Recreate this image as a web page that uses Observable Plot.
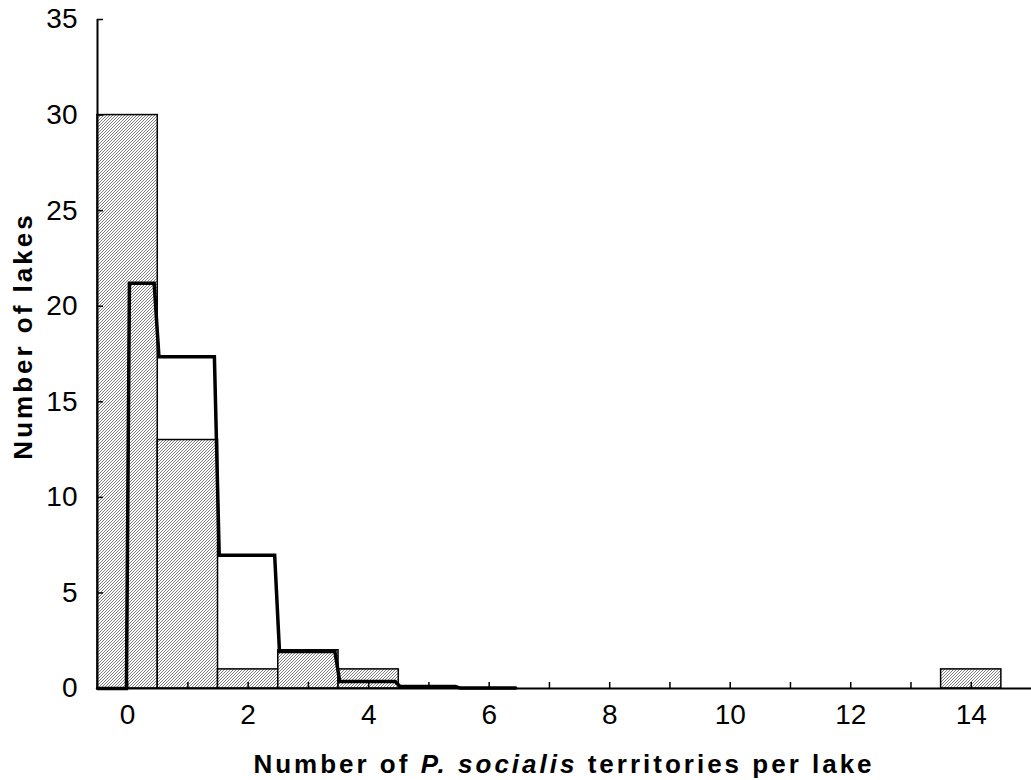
<!DOCTYPE html>
<html>
<head>
<meta charset="utf-8">
<script src="https://cdn.jsdelivr.net/npm/d3@7"></script>
<script src="https://cdn.jsdelivr.net/npm/@observablehq/plot@0.6"></script>
<style>
  html, body { margin: 0; padding: 0; background: #fff; }
  #chart { width: 1031px; height: 780px; }
  svg { font-family: "Liberation Sans", Arial, sans-serif; }
</style>
</head>
<body>
<div id="chart"></div>
<script>
// Observed histogram: territories per lake (bin centre) and number of lakes
const territoryBins = [0, 1, 2, 3, 4, 14];
const lakeCounts = [30, 13, 1, 2, 1, 1];

// Expected (fitted) number of lakes per territory count 0..6
const expectedCounts = [21.2, 17.35, 6.97, 1.94, 0.36, 0.1, 0.02];

// Tick values
const yTicks = [0, 5, 10, 15, 20, 25, 30, 35];
const xTickMarks = [0, 1, 2, 3, 4, 5, 6, 7, 8, 9, 10, 11, 12, 13, 14];
const xTickLabels = [0, 2, 4, 6, 8, 10, 12, 14];

const xTitleParts = [
  {text: "Number of ", italic: false},
  {text: "P. socialis", italic: true},
  {text: " territories per lake", italic: false}
];
const yTitle = "Number of lakes";

// Build tables from the arrays
const bars = territoryBins.map((b, i) => ({x1: b - 0.5, x2: b + 0.5, y: lakeCounts[i]}));

// Step line for expected counts (small slant at each bin edge, as in the original)
const linePts = [{x: -0.5, y: 0}, {x: -0.02, y: 0}];
expectedCounts.forEach((e, k) => {
  linePts.push({x: k === 0 ? 0.03 : k - 0.48, y: e});
  linePts.push({x: k + 0.44, y: e});
});

const plot = Plot.plot({
  width: 1031,
  height: 780,
  marginLeft: 97,
  marginRight: 0,
  marginTop: 19,
  marginBottom: 92,
  style: {fontFamily: "'Liberation Sans', Arial, sans-serif", fontSize: "28px", color: "#000", background: "#fff"},
  x: {domain: [-0.5, 15], axis: null},
  y: {domain: [0, 35], axis: null},
  marks: [
    Plot.rectY(bars, {x1: "x1", x2: "x2", y: "y", fill: "url(#hatch)", stroke: "#000", strokeWidth: 1.5}),
    Plot.line(linePts, {x: "x", y: "y", stroke: "#000", strokeWidth: 3.5, strokeLinejoin: "miter", strokeMiterlimit: 10}),
    Plot.ruleX([-0.5], {stroke: "#000", strokeWidth: 2}),
    Plot.ruleY([0], {stroke: "#000", strokeWidth: 2}),
    // inward tick marks
    Plot.axisY(yTicks, {anchor: "left", tickSize: -6, tickFormat: () => "", label: null, strokeWidth: 1.5}),
    Plot.axisX(xTickMarks, {anchor: "bottom", tickSize: -6, tickFormat: () => "", label: null, strokeWidth: 1.5}),
    // tick labels
    Plot.axisY(yTicks, {anchor: "left", tickSize: 0, tickPadding: 20, label: null, fontSize: 28}),
    Plot.axisX(xTickLabels, {anchor: "bottom", tickSize: 0, tickPadding: 16, label: null, fontSize: 28})
  ]
});

// Hatch pattern definition
const svg = d3.select(plot);
const defs = svg.insert("defs", ":first-child");
const pat = defs.append("pattern")
  .attr("id", "hatch")
  .attr("patternUnits", "userSpaceOnUse")
  .attr("width", 3).attr("height", 3);
pat.append("rect").attr("width", 3).attr("height", 3).attr("fill", "#fff");
pat.append("path")
  .attr("d", "M-1,1 L1,-1 M0,3 L3,0 M2,4 L4,2")
  .attr("stroke", "#666").attr("stroke-width", 0.85);

// Axis titles
const xt = svg.append("text")
  .attr("x", 564).attr("y", 773)
  .attr("text-anchor", "middle")
  .attr("font-weight", "bold")
  .attr("font-size", 26)
  .attr("letter-spacing", 3)
  .attr("fill", "#000");
xTitleParts.forEach(p => {
  xt.append("tspan").text(p.text).attr("font-style", p.italic ? "italic" : "normal");
});
svg.append("text")
  .attr("transform", "translate(32,336) rotate(-90)")
  .attr("text-anchor", "middle")
  .attr("font-weight", "bold")
  .attr("font-size", 26)
  .attr("letter-spacing", 3)
  .attr("fill", "#000")
  .text(yTitle);

document.getElementById("chart").appendChild(plot);
</script>
</body>
</html>
